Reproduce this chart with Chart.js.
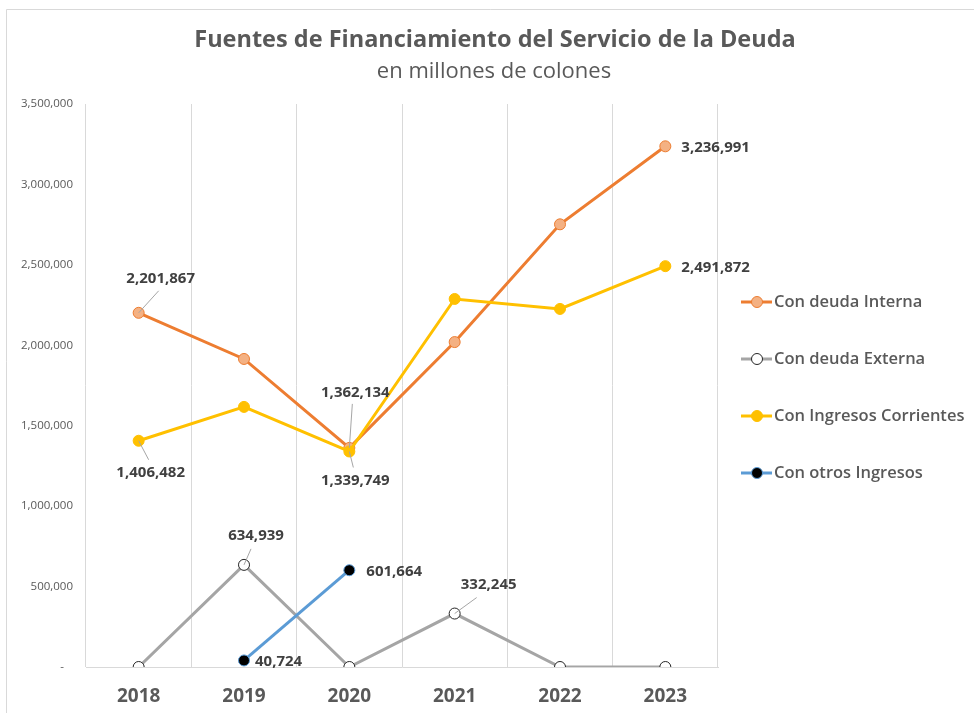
<!DOCTYPE html>
<html>
<head>
<meta charset="utf-8">
<script src="https://cdn.jsdelivr.net/npm/chart.js@4.4.1/dist/chart.umd.min.js"></script>
<style>
  html, body { margin: 0; padding: 0; background: #fff; }
  #wrap { width: 974px; height: 713px; }
</style>
</head>
<body>
<div id="wrap"><canvas id="chart" width="974" height="713"></canvas></div>
<script>
// Data
const years = ['2018', '2019', '2020', '2021', '2022', '2023'];
const deudaInterna = [2201867, 1915000, 1362134, 2020000, 2752000, 3236991];
const deudaExterna = [0, 634939, 0, 332245, 0, 0];
const ingresosCorrientes = [1406482, 1617000, 1339749, 2288000, 2226000, 2491872];
const otrosIngresos = [null, 40724, 601664, null, null, null];
const yTicks = [0, 500000, 1000000, 1500000, 2000000, 2500000, 3000000, 3500000];

const textColor = '#595959';
const labelColor = '#404040';
const fontFamily = '"Open Sans", "Liberation Sans", sans-serif';

// which points get a value label, and where it goes (offsets from the point)
const labelSpecs = [
    { 0: { dx: 22, dy: -34, align: 'center', leader: [20, -22] },
      2: { dx: 6, dy: -55, align: 'center', leader: [3, -44] },
      5: { dx: 16, dy: 1, align: 'left' } },
    { 1: { dx: 12, dy: -29, align: 'center', leader: [7, -16] },
      3: { dx: 34, dy: -29, align: 'center', leader: [22, -16] } },
    { 0: { dx: 12, dy: 32, align: 'center', leader: [10, 19] },
      2: { dx: 6, dy: 29, align: 'center', leader: [4, 16] },
      5: { dx: 16, dy: 2, align: 'left' } },
    { 1: { dx: 11, dy: 1, align: 'left' },
      2: { dx: 17, dy: 2, align: 'left' } }
];

const legendNames = ['Con deuda Interna', 'Con deuda Externa', 'Con Ingresos Corrientes', 'Con otros Ingresos'];

// background, frame and titles
const framePlugin = {
    id: 'frame',
    beforeDraw(chart) {
        const ctx = chart.ctx;
        ctx.save();
        ctx.fillStyle = '#ffffff';
        ctx.fillRect(0, 0, chart.width, chart.height);
        ctx.strokeStyle = '#d9d9d9';
        ctx.lineWidth = 1;
        ctx.beginPath();
        ctx.moveTo(6.5, chart.height);
        ctx.lineTo(6.5, 9.5);
        ctx.lineTo(chart.width, 9.5);
        ctx.stroke();

        ctx.fillStyle = textColor;
        ctx.textAlign = 'center';
        ctx.textBaseline = 'middle';
        ctx.font = 'bold 23.5px ' + fontFamily;
        ctx.fillText('Fuentes de Financiamiento del Servicio de la Deuda', 495, 40);
        ctx.font = '22px ' + fontFamily;
        ctx.fillText('en millones de colones', 494, 72);
        ctx.restore();
    }
};

// value labels with leader lines
const valueLabelPlugin = {
    id: 'valueLabels',
    afterDatasetsDraw(chart) {
        const ctx = chart.ctx;
        ctx.save();
        ctx.font = 'bold 15px ' + fontFamily;
        ctx.textBaseline = 'middle';
        chart.data.datasets.forEach(function(ds, i) {
            const meta = chart.getDatasetMeta(i);
            const specs = labelSpecs[i];
            Object.keys(specs).forEach(function(key) {
                const idx = parseInt(key);
                const pt = meta.data[idx];
                const spec = specs[key];
                if (!pt || ds.data[idx] === null) return;
                if (spec.leader) {
                    ctx.strokeStyle = '#a6a6a6';
                    ctx.lineWidth = 1;
                    ctx.beginPath();
                    ctx.moveTo(pt.x, pt.y);
                    ctx.lineTo(pt.x + spec.leader[0], pt.y + spec.leader[1]);
                    ctx.stroke();
                }
                ctx.fillStyle = labelColor;
                ctx.textAlign = spec.align;
                ctx.fillText(ds.data[idx].toLocaleString('en-US'), pt.x + spec.dx, pt.y + spec.dy);
            });
        });
        ctx.restore();
    }
};

// legend on the right, line + marker symbol
const sideLegendPlugin = {
    id: 'sideLegend',
    afterDraw(chart) {
        const ctx = chart.ctx;
        ctx.save();
        const x0 = 741, top = 302, gap = 57;
        chart.data.datasets.forEach(function(ds, i) {
            const y = top + i * gap;
            ctx.strokeStyle = ds.borderColor;
            ctx.lineWidth = 3;
            ctx.beginPath();
            ctx.moveTo(x0, y);
            ctx.lineTo(x0 + 31, y);
            ctx.stroke();
            ctx.beginPath();
            ctx.arc(x0 + 16, y, 5.5, 0, Math.PI * 2);
            ctx.fillStyle = ds.pointBackgroundColor;
            ctx.fill();
            ctx.lineWidth = 1;
            ctx.strokeStyle = ds.pointBorderColor;
            ctx.stroke();
            ctx.fillStyle = textColor;
            ctx.font = '600 16.5px ' + fontFamily;
            ctx.textAlign = 'left';
            ctx.textBaseline = 'middle';
            ctx.fillText(legendNames[i], x0 + 33, y);
        });
        ctx.restore();
    }
};

function lineSet(label, data, line, fill, border, order) {
    return {
        label: label,
        data: data,
        borderColor: line,
        borderWidth: 3,
        pointBackgroundColor: fill,
        pointBorderColor: border,
        pointBorderWidth: 1,
        pointRadius: 5.5,
        pointHoverRadius: 5.5,
        tension: 0,
        spanGaps: false,
        order: order
    };
}

const ctx = document.getElementById('chart').getContext('2d');
const chart = new Chart(ctx, {
    type: 'line',
    data: {
        labels: years,
        datasets: [
            lineSet(legendNames[0], deudaInterna, '#ED7D31', '#F4B183', '#ED7D31', 4),
            lineSet(legendNames[1], deudaExterna, '#A5A5A5', '#ffffff', '#262626', 3),
            lineSet(legendNames[2], ingresosCorrientes, '#FFC000', '#FFC000', '#FFC000', 2),
            lineSet(legendNames[3], otrosIngresos, '#5B9BD5', '#000000', '#5B9BD5', 1)
        ]
    },
    options: {
        responsive: false,
        animation: false,
        layout: { padding: { top: 104, right: 256, left: 0, bottom: 0 } },
        plugins: {
            legend: { display: false },
            title: { display: false },
            tooltip: { enabled: false }
        },
        scales: {
            x: {
                offset: true,
                grid: { display: true, offset: true, color: '#d9d9d9', lineWidth: 1, drawTicks: false },
                border: { display: true, color: '#d9d9d9', width: 1 },
                ticks: { color: textColor, font: { family: fontFamily, size: 19, weight: 'bold' }, padding: 18 },
                afterFit: function(scale) { scale.height = 46; }
            },
            y: {
                min: 0,
                max: 3500000,
                afterBuildTicks: function(scale) { scale.ticks = yTicks.map(v => ({ value: v })); },
                grid: { display: false, drawTicks: false },
                border: { display: false },
                ticks: {
                    color: textColor,
                    font: { family: fontFamily, size: 11.5 },
                    padding: 13,
                    callback: function(value) { return value === 0 ? '-   ' : value.toLocaleString('en-US'); }
                },
                afterFit: function(scale) { scale.width = 86; }
            }
        }
    },
    plugins: [framePlugin, valueLabelPlugin, sideLegendPlugin]
});
</script>
</body>
</html>
